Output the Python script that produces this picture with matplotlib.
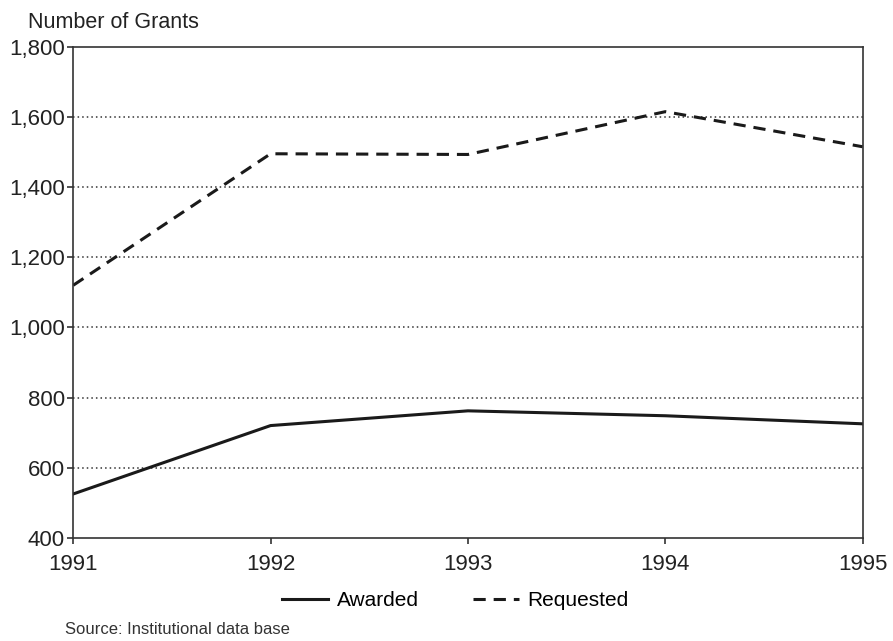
import matplotlib.pyplot as plt
from matplotlib.ticker import FuncFormatter

# データ
years = [1991, 1992, 1993, 1994, 1995]
awarded = [525, 720, 762, 748, 725]
requested = [1120, 1495, 1493, 1615, 1515]
y_ticks = [400, 600, 800, 1000, 1200, 1400, 1600, 1800]

plt.rcParams['font.family'] = ['Liberation Sans', 'DejaVu Sans']

fig = plt.figure(figsize=(8.93, 6.41), dpi=100)
ax = fig.add_axes([0.082, 0.161, 0.884, 0.766])

ax.plot(years, awarded, color='#1a1a1a', lw=2.2, label='Awarded')
ax.plot(years, requested, color='#1a1a1a', lw=2.2, dashes=(4, 2.6), label='Requested')

ax.set_xlim(1991, 1995)
ax.set_ylim(400, 1800)
ax.set_xticks(years)
ax.set_yticks(y_ticks)
ax.yaxis.set_major_formatter(FuncFormatter(lambda v, p: f"{int(v):,}"))

# グリッド (600〜1600)
for v in y_ticks[1:-1]:
    ax.axhline(v, color='#333333', lw=1.1, ls=(0, (1, 2)), zorder=0)

for s in ax.spines.values():
    s.set_color('#333333')
    s.set_linewidth(1.2)
ax.tick_params(axis='both', labelsize=16, color='#333333', length=4, width=1.2, labelcolor='#222222')
ax.tick_params(axis='y', pad=2)
ax.tick_params(axis='x', pad=8)

fig.text(0.031, 0.965, "Number of Grants", fontsize=15.5, color='#222222', va='center')

ax.legend(loc='upper center', bbox_to_anchor=(0.484, -0.07), ncol=2, frameon=False,
          fontsize=15, handlelength=2.2, columnspacing=2.6, handletextpad=0.4)

fig.text(0.073, 0.006, "Source: Institutional data base", fontsize=12, color='#333333', va='bottom')

plt.savefig("out.png", dpi=100)
